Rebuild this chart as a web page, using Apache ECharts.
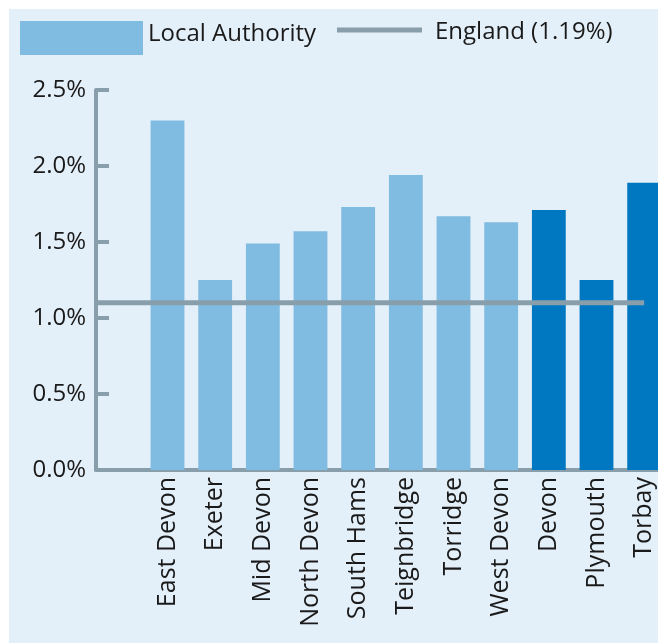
<!DOCTYPE html>
<html>
<head>
<meta charset="utf-8">
<script src="https://cdn.jsdelivr.net/npm/echarts@6/dist/echarts.min.js"></script>
<style>
html,body{margin:0;padding:0;background:#ffffff;overflow:hidden;}
#chart{width:668px;height:643px;}
</style>
</head>
<body>
<div id="chart"></div>
<script>
// ---- data ----
const categories = ['', 'East Devon', 'Exeter', 'Mid Devon', 'North Devon', 'South Hams', 'Teignbridge', 'Torridge', 'West Devon', 'Devon', 'Plymouth', 'Torbay'];
const values = [null, 2.30, 1.25, 1.49, 1.57, 1.73, 1.94, 1.67, 1.63, 1.71, 1.25, 1.89];
const countyCategories = ['Devon', 'Plymouth', 'Torbay'];
const barSeriesName = 'Local Authority';
const englandName = 'England (1.19%)';
const englandValue = 1.10;
const englandSpan = [0, 11.5];
const yTicks = [0, 0.5, 1.0, 1.5, 2.0, 2.5];

const lightBlue = '#80bbe1';
const darkBlue = '#0078c1';
const greyLine = '#889eab';
const textColor = '#1a1a1a';
const fontFamily = '"Open Sans", "Noto Sans", sans-serif';

const barData = values.map((v, i) => ({
  value: v,
  itemStyle: { color: countyCategories.includes(categories[i]) ? darkBlue : lightBlue }
}));

const chart = echarts.init(document.getElementById('chart'), null, { renderer: 'canvas' });
chart.setOption({
  animation: false,
  backgroundColor: '#ffffff',
  graphic: [{
    type: 'rect', left: 9, top: 9, z: -10,
    shape: { width: 670, height: 640 },
    style: { fill: '#e4f0f9' }
  }],
  legend: [{
    data: [barSeriesName],
    left: 20, top: 21, padding: 0,
    icon: 'rect', itemWidth: 123, itemHeight: 34,
    itemStyle: { color: lightBlue },
    formatter: '{a|{name}}',
    textStyle: {
      fontSize: 24, color: textColor, fontFamily: fontFamily,
      rich: { a: { fontSize: 24, lineHeight: 26, color: textColor, fontFamily: fontFamily, padding: [0, 0, 8, 0] } }
    }
  }, {
    data: [englandName],
    left: 337, top: 16, padding: 0,
    icon: 'rect', itemWidth: 85, itemHeight: 5,
    itemStyle: { color: greyLine },
    formatter: '{a|{name}}',
    textStyle: {
      fontSize: 24, color: textColor, fontFamily: fontFamily,
      rich: { a: { fontSize: 24, lineHeight: 26, color: textColor, fontFamily: fontFamily, padding: [4, 0, 0, 8] } }
    }
  }],
  grid: { left: 96, right: 0, top: 90, bottom: 173, containLabel: false },
  xAxis: [{
    type: 'category',
    data: categories,
    axisLine: { show: true, lineStyle: { color: greyLine, width: 4 } },
    axisTick: { show: false },
    axisLabel: {
      rotate: 90, margin: 7, interval: 0,
      fontSize: 25, color: textColor, fontFamily: fontFamily
    },
    splitLine: { show: false }
  }, {
    type: 'value', min: 0, max: 12, show: false,
    splitLine: { show: false }
  }],
  yAxis: {
    type: 'value', min: yTicks[0], max: yTicks[yTicks.length - 1], interval: 0.5,
    axisLine: { show: true, lineStyle: { color: greyLine, width: 4 } },
    axisTick: { show: true, inside: true, length: 13, lineStyle: { color: greyLine, width: 4 } },
    axisLabel: {
      margin: 10, fontSize: 24, color: textColor, fontFamily: fontFamily,
      formatter: v => v.toFixed(1) + '%'
    },
    splitLine: { show: false }
  },
  series: [{
    name: barSeriesName,
    type: 'bar',
    xAxisIndex: 0,
    data: barData,
    barWidth: '71%',
    itemStyle: { color: lightBlue },
    z: 2
  }, {
    name: englandName,
    type: 'line',
    xAxisIndex: 1,
    data: englandSpan.map(x => [x, englandValue]),
    symbol: 'none',
    lineStyle: { color: greyLine, width: 5 },
    itemStyle: { color: greyLine },
    z: 5
  }]
});
</script>
</body>
</html>
